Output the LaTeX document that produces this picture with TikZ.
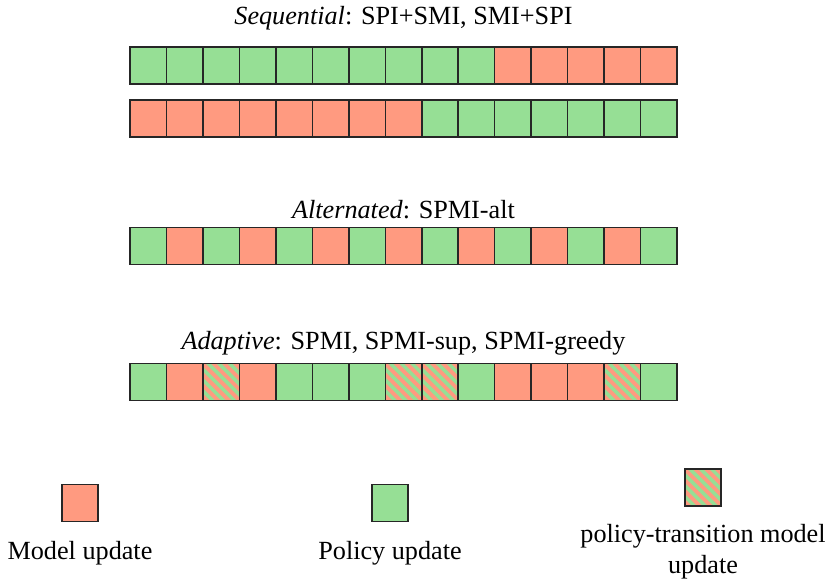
\documentclass[tikz,border=0pt]{standalone}
\usepackage{fontspec}
\setmainfont{Liberation Serif}
\definecolor{modelcolor}{HTML}{FF9A80}
\definecolor{policycolor}{HTML}{96DF95}
\tikzset{cell/.style={draw=black!85,line width=0.75pt,minimum width=18.23pt,minimum height=18.5pt,inner sep=0pt,outer sep=0pt},model/.style={cell,fill=modelcolor},policy/.style={cell,fill=policycolor},mixed/.style={cell,fill=policycolor,path picture={\foreach \s in {-5,...,5} {\draw[modelcolor,line width=1.9pt] ([xshift=\s*5.4pt]path picture bounding box.center) ++(-14pt,14pt) -- ++(28pt,-28pt);}}},caption/.style={font=\fontsize{13.1}{15.5}\selectfont,inner sep=0pt,align=center}}

\begin{document}
\begin{tikzpicture}[x=0.5pt,y=-0.5pt]
 \useasboundingbox (0,0) rectangle (828,583);

 % Sequential
 \node[caption] (seq-title) at (403.5,18) {\textit{Sequential}: SPI+SMI, SMI+SPI};
 \foreach \t [count=\i] in {policy,policy,policy,policy,policy,policy,policy,policy,policy,policy,model,model,model,model,model} {\node[\t] (seqa-\i) at ({130+36.47*(\i-0.5)},65.5) {};}
 \foreach \t [count=\i] in {model,model,model,model,model,model,model,model,policy,policy,policy,policy,policy,policy,policy} {\node[\t] (seqb-\i) at ({130+36.47*(\i-0.5)},118.5) {};}

 % Alternated
 \node[caption] (alt-title) at (403.5,210) {\textit{Alternated}: SPMI-alt};
 \foreach \t [count=\i] in {policy,model,policy,model,policy,model,policy,model,policy,model,policy,model,policy,model,policy} {\node[\t] (alt-\i) at ({130+36.47*(\i-0.5)},246) {};}

 % Adaptive
 \node[caption] (ada-title) at (403.5,343) {\textit{Adaptive}: SPMI, SPMI-sup, SPMI-greedy};
 \foreach \t [count=\i] in {policy,model,mixed,model,policy,policy,policy,mixed,mixed,policy,model,model,model,mixed,policy} {\node[\t] (ada-\i) at ({130+36.47*(\i-0.5)},382) {};}

 % Legend
 \node[model] (legend-model) at (80,503) {};
 \node[caption] (legend-model-text) at (80,553) {Model update};
 \node[policy] (legend-policy) at (390,503) {};
 \node[caption] (legend-policy-text) at (390,553) {Policy update};
 \node[mixed] (legend-mixed) at (703,487.5) {};
 \node[caption] (legend-mixed-text) at (703,551.5) {policy-transition model\\update};
\end{tikzpicture}
\end{document}
